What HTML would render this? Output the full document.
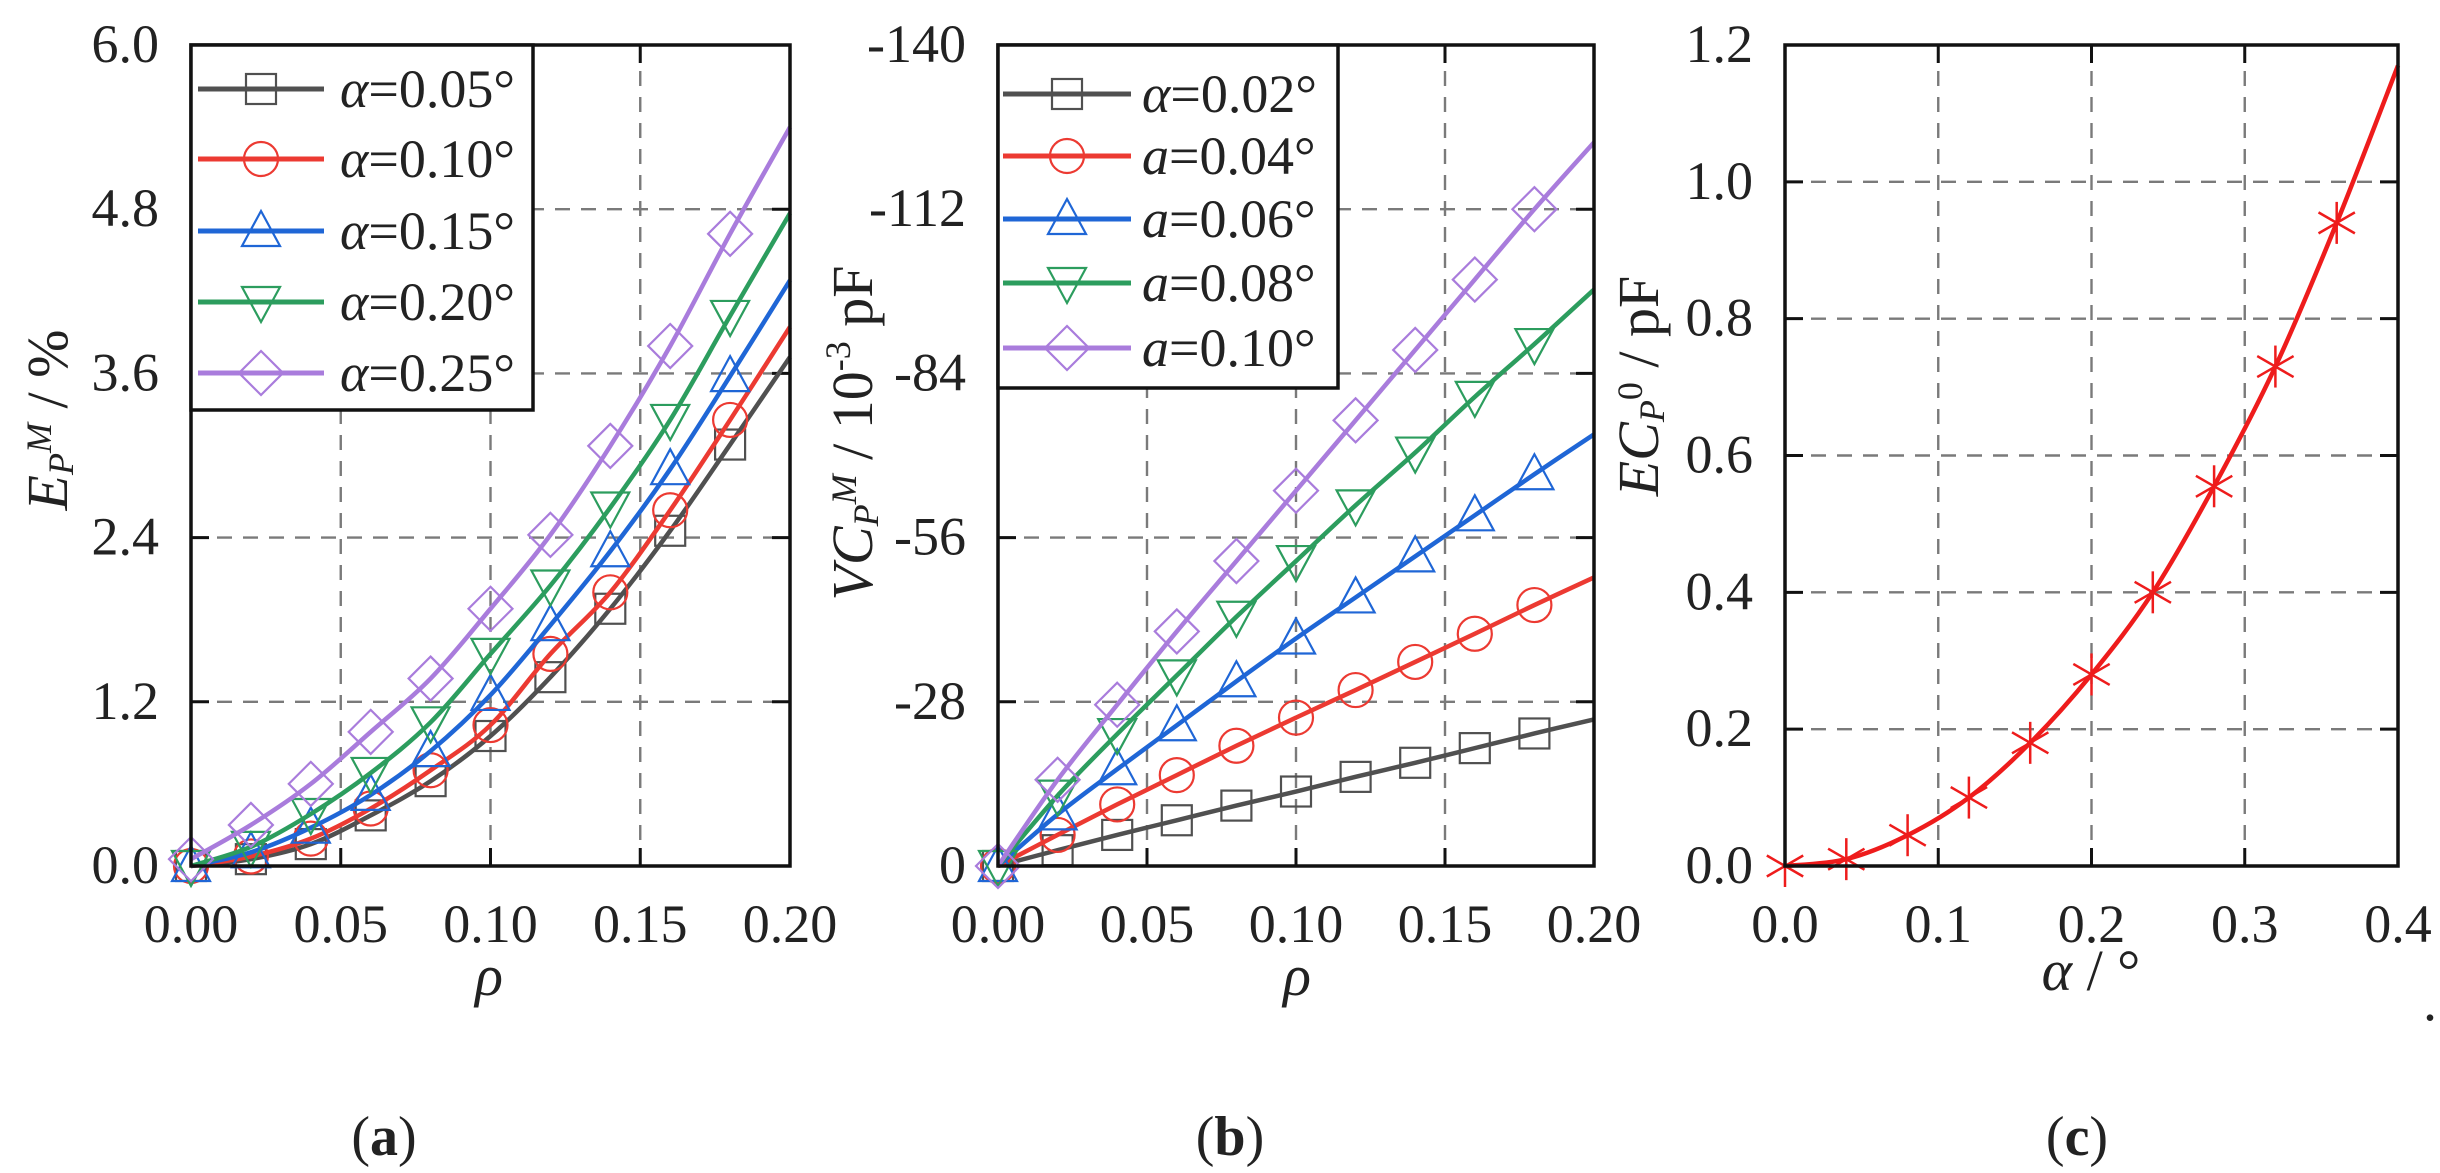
<!DOCTYPE html>
<html><head><meta charset="utf-8"><style>
html,body{margin:0;padding:0;background:#fff;}
svg{display:block;font-family:"Liberation Serif","Times New Roman","DejaVu Serif",serif;}
svg text{font-family:"Liberation Serif","Times New Roman","DejaVu Serif",serif;fill:#222;}
</style></head><body>
<svg id="fig" width="2440" height="1173" viewBox="0 0 2440 1173" xmlns="http://www.w3.org/2000/svg" font-family="Liberation Serif, serif"></svg>
<script>
// ---- data: panel (a)
const rhoA = [0,0.02,0.04,0.06,0.08,0.10,0.12,0.14,0.16,0.18,0.20];
const aLabels = ["α=0.05°","α=0.10°","α=0.15°","α=0.20°","α=0.25°"];
const aS1 = [0,0.05,0.16,0.37,0.62,0.95,1.38,1.88,2.45,3.08,3.72];
const aS2 = [0,0.07,0.20,0.42,0.70,1.03,1.55,2.00,2.60,3.26,3.94];
const aS3 = [0,0.10,0.28,0.52,0.84,1.25,1.76,2.30,2.90,3.58,4.28];
const aS4 = [0,0.14,0.38,0.68,1.05,1.55,2.05,2.62,3.26,4.02,4.77];
const aS5 = [0.05,0.30,0.60,0.98,1.37,1.88,2.42,3.07,3.80,4.62,5.40];
const aYTicks = ["0.0","1.2","2.4","3.6","4.8","6.0"];
const aXTicks = ["0.00","0.05","0.10","0.15","0.20"];
// ---- data: panel (b)
const rhoB = [0,0.02,0.04,0.06,0.08,0.10,0.12,0.14,0.16,0.18,0.20];
const bLabels = ["α=0.02°","a=0.04°","a=0.06°","a=0.08°","a=0.10°"];
const bS1 = [0,2.7,5.3,7.8,10.3,12.7,15.2,17.6,20.1,22.6,25.0];
const bS2 = [0,5.3,10.5,15.5,20.5,25.3,30.0,34.8,39.6,44.5,49.2];
const bS3 = [0,8.8,16.5,24.0,31.5,38.8,45.8,52.8,59.8,66.8,73.6];
const bS4 = [0,12.0,22.5,32.5,42.5,52.0,61.5,70.5,80.0,89.0,98.3];
const bS5 = [0,14.7,27.5,40.0,52.0,64.0,76.0,88.0,100.0,112.0,123.4];
const bYTicks = ["0","-28","-56","-84","-112","-140"];
const bXTicks = ["0.00","0.05","0.10","0.15","0.20"];
// ---- data: panel (c)
const alphaC = [0,0.04,0.08,0.12,0.16,0.20,0.24,0.28,0.32,0.36,0.40];
const cVals = [0,0.01,0.045,0.10,0.18,0.28,0.40,0.555,0.73,0.94,1.17];
const cYTicks = ["0.0","0.2","0.4","0.6","0.8","1.0","1.2"];
const cXTicks = ["0.0","0.1","0.2","0.3","0.4"];

const COLORS = ["#505050","#ec3a32","#1f66d6","#2c9d5e","#a97cdc"];
const FONT = '"Liberation Serif", "Times New Roman", "DejaVu Serif", serif';
const NS = "http://www.w3.org/2000/svg";
const svg = document.getElementById("fig");
function el(tag, attrs, parent){const e=document.createElementNS(NS,tag);for(const k in attrs)e.setAttribute(k,attrs[k]);if(tag==="text")e.style.fontFamily=FONT;(parent||svg).appendChild(e);return e;}

function smoothPath(pts){
  let d="M"+pts[0][0]+","+pts[0][1];
  for(let i=0;i<pts.length-1;i++){
    const p0=pts[i-1]||pts[i],p1=pts[i],p2=pts[i+1],p3=pts[i+2]||p2;
    const c1x=p1[0]+(p2[0]-p0[0])/6,c1y=p1[1]+(p2[1]-p0[1])/6;
    const c2x=p2[0]-(p3[0]-p1[0])/6,c2y=p2[1]-(p3[1]-p1[1])/6;
    d+=` C${c1x},${c1y} ${c2x},${c2y} ${p2[0]},${p2[1]}`;
  }
  return d;
}
function marker(g,type,x,y,color){
  const s=15;let m;
  if(type==="square") m=el("rect",{x:x-s,y:y-s,width:2*s,height:2*s,fill:"none",stroke:color,"stroke-width":2.2},g);
  else if(type==="circle") m=el("circle",{cx:x,cy:y,r:s+2,fill:"none",stroke:color,"stroke-width":2.2},g);
  else if(type==="tri") m=el("polygon",{points:`${x},${y-s-5} ${x+s+4},${y+s} ${x-s-4},${y+s}`,fill:"none",stroke:color,"stroke-width":2.2},g);
  else if(type==="itri") m=el("polygon",{points:`${x},${y+s+5} ${x+s+4},${y-s} ${x-s-4},${y-s}`,fill:"none",stroke:color,"stroke-width":2.2},g);
  else if(type==="diamond") m=el("polygon",{points:`${x},${y-s-7} ${x+s+7},${y} ${x},${y+s+7} ${x-s-7},${y}`,fill:"none",stroke:color,"stroke-width":2.2},g);
  else if(type==="star"){
    m=el("g",{},g);
    for(const a of [90,30,150]){const r=a*Math.PI/180,L=21;
      el("line",{x1:x-L*Math.cos(r),y1:y-L*Math.sin(r),x2:x+L*Math.cos(r),y2:y+L*Math.sin(r),stroke:color,"stroke-width":2.5},m);}
  }
  
  
  return m;
}
const MTYPES=["square","circle","tri","itri","diamond"];

function panel(o){
  const g=el("g",{});
  
  
  const sx=v=>o.L+(v-o.x0)/(o.x1-o.x0)*(o.R-o.L);
  const sy=v=>o.B-(v-o.y0)/(o.y1-o.y0)*(o.B-o.T);
  const nx=o.xt.length-1, ny=o.yt.length-1;
  for(let i=1;i<nx;i++){const x=o.L+i*(o.R-o.L)/nx;
    const l=el("line",{x1:x,y1:o.T,x2:x,y2:o.B,stroke:"#7a7a7a","stroke-width":2.4,"stroke-dasharray":"15 11"},g);
    
    el("line",{x1:x,y1:o.B,x2:x,y2:o.B-18,stroke:"#111","stroke-width":3},g);
    el("line",{x1:x,y1:o.T,x2:x,y2:o.T+18,stroke:"#111","stroke-width":3},g);}
  for(let i=1;i<ny;i++){const y=o.B-i*(o.B-o.T)/ny;
    const l=el("line",{x1:o.L,y1:y,x2:o.R,y2:y,stroke:"#7a7a7a","stroke-width":2.4,"stroke-dasharray":"15 11"},g);
    
    el("line",{x1:o.L,y1:y,x2:o.L+18,y2:y,stroke:"#111","stroke-width":3},g);
    el("line",{x1:o.R,y1:y,x2:o.R-18,y2:y,stroke:"#111","stroke-width":3},g);}
  o.xt.forEach((t,i)=>{const x=o.L+i*(o.R-o.L)/nx;
    const e=el("text",{x:x,y:o.B+76,"text-anchor":"middle","font-size":54},g);e.textContent=t;
    });
  o.yt.forEach((t,i)=>{const y=o.B-i*(o.B-o.T)/ny;
    const e=el("text",{x:o.L-32,y:y+17,"text-anchor":"end","font-size":54},g);e.textContent=t;
    });
  o.series.forEach((s,si)=>{
    const pts=o.xs.map((v,i)=>[sx(v),sy(s.vals[i])]);
    const p=el("path",{d:smoothPath(pts),fill:"none",stroke:s.color,"stroke-width":4.5,"stroke-linejoin":"round"},g);
    
    
    pts.slice(0,pts.length-1).forEach(q=>marker(g,s.marker,q[0],q[1],s.color));
  });
  const f=el("rect",{x:o.L,y:o.T,width:o.R-o.L,height:o.B-o.T,fill:"none",stroke:"#111","stroke-width":3.5},g);
  
  if(o.legend){const lg=o.legend;
    const lgG=el("g",{},g);
    
    el("rect",{x:o.L,y:o.T,width:lg.w,height:lg.h,fill:"#fff",stroke:"#111","stroke-width":3.5},lgG);
    o.series.forEach((s,i)=>{const y=lg.ys[i];
      const eg=el("g",{},lgG);
      
      el("line",{x1:lg.lx1,y1:y,x2:lg.lx2,y2:y,stroke:s.color,"stroke-width":5},eg);
      marker(eg,s.marker,(lg.lx1+lg.lx2)/2,y,s.color);
      const t=el("text",{x:lg.tx,y:y+18,"font-size":54},eg);
      const ta=el("tspan",{"font-style":"italic"},t);ta.textContent=s.label.slice(0,1);
      const tb=el("tspan",{},t);tb.textContent=s.label.slice(1);
    });
  }
  return g;
}

panel({name:"panel-a",L:191,R:790,T:45,B:866,x0:0,x1:0.2,y0:0,y1:6,xt:aXTicks,yt:aYTicks,xs:rhoA,
  series:[aS1,aS2,aS3,aS4,aS5].map((v,i)=>({vals:v,color:COLORS[i],marker:MTYPES[i],label:aLabels[i]})),
  legend:{w:342,h:365,ys:[89,159,231,302,373],lx1:198,lx2:324,tx:340}});
panel({name:"panel-b",L:998,R:1594,T:45,B:866,x0:0,x1:0.2,y0:0,y1:140,xt:bXTicks,yt:bYTicks,xs:rhoB,
  series:[bS1,bS2,bS3,bS4,bS5].map((v,i)=>({vals:v,color:COLORS[i],marker:MTYPES[i],label:bLabels[i]})),
  legend:{w:340,h:343,ys:[94,156,219,283,348],lx1:1003,lx2:1131,tx:1142}});
panel({name:"panel-c",L:1785,R:2398,T:45,B:866,x0:0,x1:0.4,y0:0,y1:1.2,xt:cXTicks,yt:cYTicks,xs:alphaC,
  series:[{vals:cVals,color:"#ee1c1c",marker:"star"}]});

function rotLabel(name,x,y,parts){
  const t=el("text",{x:0,y:0,"font-size":58,"text-anchor":"middle",transform:`translate(${x},${y}) rotate(-90)`});
  
  parts.forEach(p=>{const s=el("tspan",p.a||{},t);s.textContent=p.t;});
}
rotLabel("y-axis-title-a",67,420,[{t:"E",a:{"font-style":"italic"}},{t:"P",a:{"font-style":"italic","font-size":36,dy:6}},{t:"M",a:{"font-style":"italic","font-size":36,dy:-22}},{t:" / %",a:{dy:16}}]);
rotLabel("y-axis-title-b",872,433,[{t:"VC",a:{"font-style":"italic"}},{t:"P",a:{"font-style":"italic","font-size":36,dy:6}},{t:"M",a:{"font-style":"italic","font-size":36,dy:-22}},{t:" / 10",a:{dy:16}},{t:"-3",a:{"font-size":36,dy:-22}},{t:" pF",a:{dy:22}}]);
rotLabel("y-axis-title-c",1658,386,[{t:"EC",a:{"font-style":"italic"}},{t:"P",a:{"font-style":"italic","font-size":36,dy:6}},{t:"0",a:{"font-size":36,dy:-22}},{t:" / pF",a:{dy:16}}]);

function txt(name,x,y,size,parts,anchor){
  const t=el("text",{x:x,y:y,"font-size":size,"text-anchor":anchor||"middle"});
  
  parts.forEach(p=>{const s=el("tspan",p.a||{},t);s.textContent=p.t;});
}
txt("x-axis-title-a",489,995,58,[{t:"ρ",a:{"font-style":"italic"}}]);
txt("x-axis-title-b",1297,995,58,[{t:"ρ",a:{"font-style":"italic"}}]);
txt("x-axis-title-c",2091,990,58,[{t:"α",a:{"font-style":"italic"}},{t:" / °"}]);
txt("caption-a",384,1155,56,[{t:"("},{t:"a",a:{"font-weight":"bold"}},{t:")"}]);
txt("caption-b",1230,1155,56,[{t:"("},{t:"b",a:{"font-weight":"bold"}},{t:")"}]);
txt("caption-c",2077,1155,56,[{t:"("},{t:"c",a:{"font-weight":"bold"}},{t:")"}]);
txt("trailing-period",2430,1020,56,[{t:"."}]);
</script>
</body></html>
